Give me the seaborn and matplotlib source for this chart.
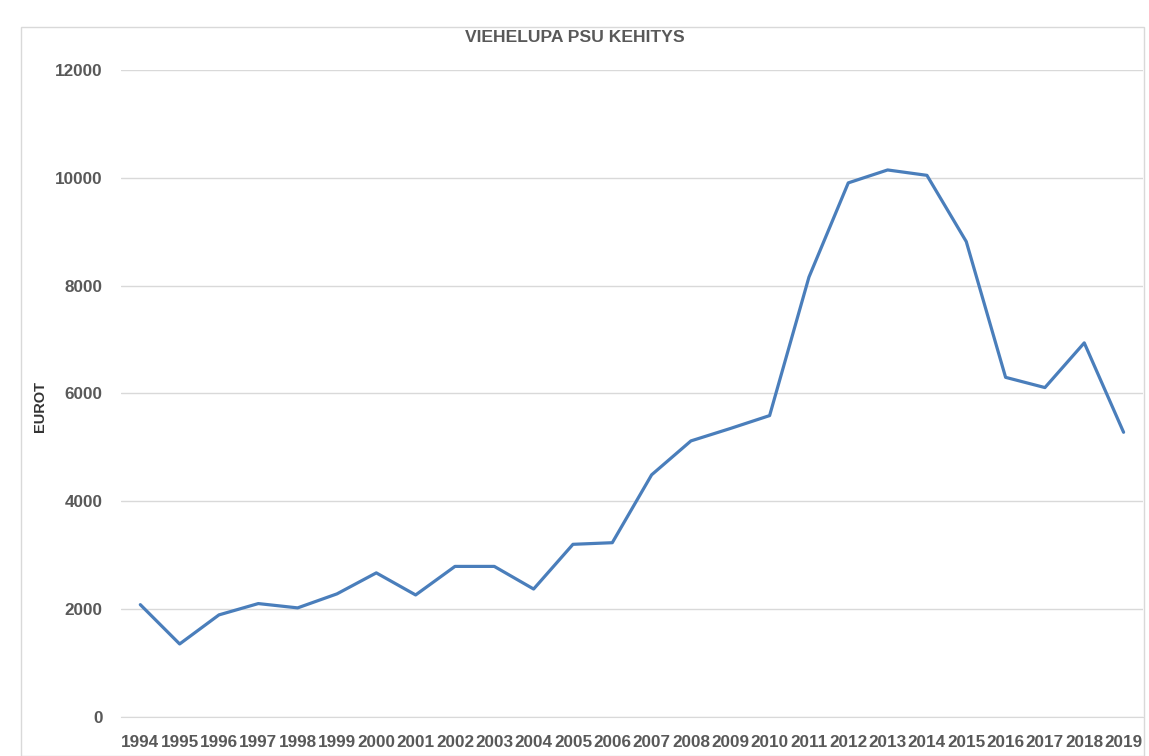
import pandas as pd
import seaborn as sns
import matplotlib.pyplot as plt
from matplotlib.patches import Rectangle

years = list(range(1994, 2020))
eurot = [2080, 1350, 1890, 2100, 2020, 2280, 2670, 2260, 2790, 2790,
         2370, 3200, 3230, 4490, 5120, 5350, 5590, 8160, 9910, 10150,
         10050, 8820, 6300, 6110, 6940, 5280]
y_ticks = [0, 2000, 4000, 6000, 8000, 10000, 12000]

df = pd.DataFrame({'vuosi': years, 'eurot': eurot})

sns.set_style("white")
plt.rcParams['font.family'] = ['Liberation Sans', 'DejaVu Sans']

fig = plt.figure(figsize=(11.49, 7.56), dpi=100)
ax = fig.add_axes([0.105, 0.052, 0.89, 0.855])

sns.lineplot(data=df, x='vuosi', y='eurot', color='#4A7EBB', linewidth=2.3, ax=ax)

ax.set_xlim(1993.5, 2019.5)
ax.set_ylim(0, 12000)
ax.set_xticks(years)
ax.set_xticklabels([str(y) for y in years])
ax.set_yticks(y_ticks)
ax.yaxis.grid(True, color='#D9D9D9', linewidth=1)
ax.set_axisbelow(True)
for s in ax.spines.values():
    s.set_visible(False)
ax.spines['bottom'].set_visible(True)
ax.spines['bottom'].set_color('#D9D9D9')

ax.tick_params(axis='both', length=0, labelsize=12.3, labelcolor='#595959')
ax.tick_params(axis='x', pad=13)
ax.tick_params(axis='y', pad=13)
for lab in ax.get_xticklabels() + ax.get_yticklabels():
    lab.set_fontweight('bold')

ax.set_xlabel('')
ax.set_ylabel('EUROT', fontsize=10.5, fontweight='bold', color='#333333')
ax.yaxis.set_label_coords(-0.072, 0.48)
fig.text(0.5, 0.950, 'VIEHELUPA PSU KEHITYS', ha='center', va='center',
         fontsize=12.6, fontweight='bold', color='#595959')

fig.patches.append(Rectangle((0.018, 0.0), 0.978, 0.964, transform=fig.transFigure,
                             fill=False, edgecolor='#D9D9D9', linewidth=1))

fig.savefig('out.png', dpi=100)
